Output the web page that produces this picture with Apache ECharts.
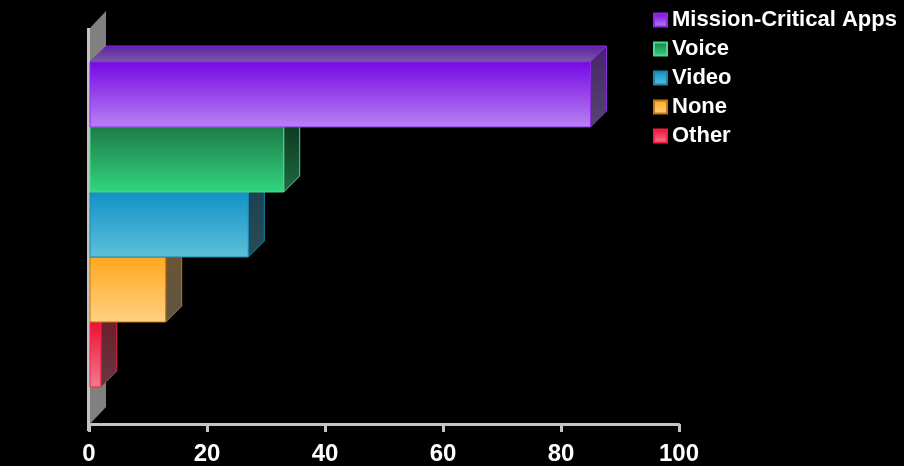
<!DOCTYPE html>
<html>
<head>
<meta charset="utf-8">
<title>Traffic priority</title>
<script src="https://cdn.jsdelivr.net/npm/echarts@6/dist/echarts.min.js"></script>
<style>
  html, body { margin: 0; padding: 0; background: #000; }
  #chart { width: 904px; height: 466px; }
</style>
</head>
<body>
<div id="chart"></div>
<script>
// data
const categories = ['Mission-Critical Apps', 'Voice', 'Video', 'None', 'Other'];
const values = [85, 33, 27, 13, 2];
const xTicks = [0, 20, 40, 60, 80, 100];

// colours per bar: front top, front bottom, top face, side top, side bottom, edge
const palette = [
  { top: '#7508e4', bottom: '#b982f2', faceBack: '#5e1ea6', face: '#7c5ca8', sideTop: '#46246e', sideBottom: '#54466c', edge: '#8a2be2' },
  { top: '#1d7a47', bottom: '#31d67f', faceBack: '#1e7040', face: '#2a8a56', sideTop: '#06301c', sideBottom: '#1f6a40', edge: '#4cd88a' },
  { top: '#1290c6', bottom: '#5dc0da', faceBack: '#1a6a88', face: '#2a7a98', sideTop: '#173f52', sideBottom: '#2c4c54', edge: '#1a86ad' },
  { top: '#ffa81e', bottom: '#ffd082', faceBack: '#8a6a30', face: '#a88440', sideTop: '#6e5432', sideBottom: '#5e5442', edge: '#c07810' },
  { top: '#ef0e30', bottom: '#f27c92', faceBack: '#802838', face: '#a0404e', sideTop: '#6e1826', sideBottom: '#643a42', edge: '#ee2244' }
];

const DEPTH = 16;

function grad(c1, c2) {
  return new echarts.graphic.LinearGradient(0, 0, 0, 1, [
    { offset: 0, color: c1 },
    { offset: 1, color: c2 }
  ]);
}

function barRenderer(colors) {
  return function (params, api) {
    const p0 = api.coord([0, api.value(1)]);
    const p1 = api.coord([api.value(0), api.value(1)]);
    const h = api.size([0, 1])[1];
    const x0 = p0[0] + 1, x1 = p1[0];
    const top = p0[1] - h / 2, bot = p0[1] + h / 2;
    return {
      type: 'group',
      children: [
        {
          type: 'polygon',
          shape: { points: [[x0, top], [x0 + DEPTH, top - DEPTH], [x1 + DEPTH, top - DEPTH], [x1, top]] },
          style: { fill: grad(colors.faceBack, colors.face), stroke: colors.edge, lineWidth: 1 }
        },
        {
          type: 'polygon',
          shape: { points: [[x1, top], [x1 + DEPTH, top - DEPTH], [x1 + DEPTH, bot - DEPTH], [x1, bot]] },
          style: { fill: grad(colors.sideTop, colors.sideBottom), stroke: colors.edge, lineWidth: 1 }
        },
        {
          type: 'rect',
          shape: { x: x0, y: top, width: x1 - x0, height: bot - top },
          style: { fill: grad(colors.top, colors.bottom), stroke: colors.edge, lineWidth: 1 }
        }
      ]
    };
  };
}

// back wall on the left
function wallRenderer(params) {
  const cs = params.coordSys;
  const x = cs.x;
  const wallTop = cs.y - 34;
  const wallBot = cs.y + cs.height + 37;
  return {
    type: 'group',
    children: [
      {
        type: 'polygon',
        shape: { points: [[x + 1, wallTop], [x + 1 + DEPTH, wallTop - 17], [x + 1 + DEPTH, wallBot - 17], [x + 1, wallBot]] },
        style: { fill: '#808080' }
      },
      {
        type: 'line',
        shape: { x1: x - 0.5, y1: wallTop, x2: x - 0.5, y2: wallBot + 7 },
        style: { stroke: '#c4c4c4', lineWidth: 3 }
      }
    ]
  };
}

const chart = echarts.init(document.getElementById('chart'));

const series = [{
  type: 'custom',
  name: 'wall',
  z: 1,
  silent: true,
  renderItem: wallRenderer,
  data: [[0, 0]]
}];
categories.forEach((name, i) => {
  series.push({
    type: 'custom',
    name: name,
    z: 10 - i,
    renderItem: barRenderer(palette[i]),
    itemStyle: {
      color: grad(palette[i].top, palette[i].bottom),
      borderColor: palette[i].edge,
      borderWidth: 1
    },
    encode: { x: 0, y: 1 },
    data: [[values[i], i]]
  });
});

chart.setOption({
  backgroundColor: '#000',
  animation: false,
  grid: { left: 89, width: 590, top: 62, bottom: 78 },
  legend: {
    data: categories,
    orient: 'vertical',
    left: 648,
    top: 4,
    icon: 'rect',
    itemWidth: 13,
    itemHeight: 13,
    itemGap: 7,
    textStyle: {
      color: '#fff',
      fontSize: 22,
      fontWeight: 'bold',
      fontFamily: 'Liberation Sans, Arial, sans-serif',
      lineHeight: 22
    }
  },
  xAxis: {
    type: 'value',
    min: xTicks[0],
    max: xTicks[xTicks.length - 1],
    interval: 20,
    offset: 37,
    axisLine: { show: true, lineStyle: { color: '#c4c4c4', width: 3 } },
    axisTick: { show: true, length: 8, lineStyle: { color: '#c4c4c4', width: 3 } },
    splitLine: { show: false },
    axisLabel: {
      color: '#fff',
      fontSize: 24,
      fontWeight: 'bold',
      fontFamily: 'Liberation Sans, Arial, sans-serif',
      margin: 18
    }
  },
  yAxis: {
    type: 'category',
    data: categories,
    inverse: true,
    axisLine: { show: false },
    axisTick: { show: false },
    axisLabel: { show: false },
    splitLine: { show: false }
  },
  series: series
});
</script>
</body>
</html>
